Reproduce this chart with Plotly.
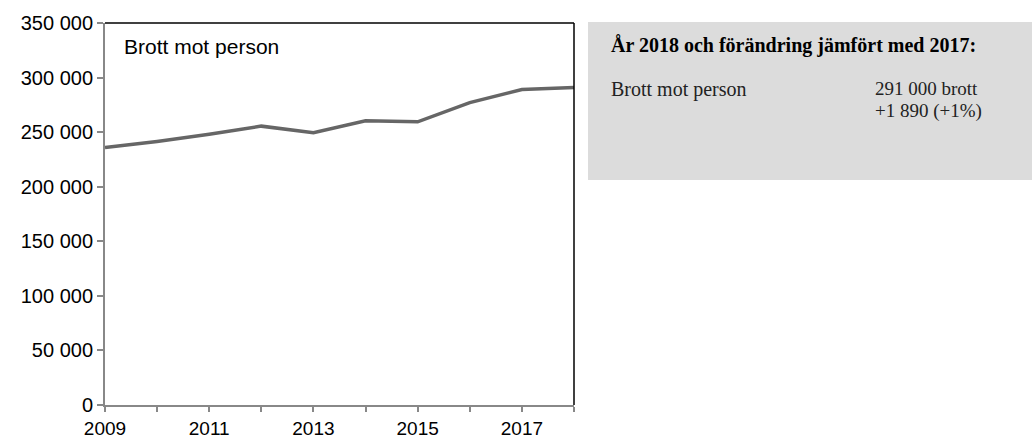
import plotly.graph_objects as go

years = [2009, 2010, 2011, 2012, 2013, 2014, 2015, 2016, 2017, 2018]
brott_mot_person = [236000, 241500, 248000, 255500, 249500, 260500, 259500, 277000, 289110, 291000]
tick_years = years
tick_labels = ["2009", "", "2011", "", "2013", "", "2015", "", "2017", ""]
y_ticks = [0, 50000, 100000, 150000, 200000, 250000, 300000, 350000]
y_labels = ["0", "50 000", "100 000", "150 000", "200 000", "250 000", "300 000", "350 000"]

W, H = 1032, 441
L, R, T, B = 105, 574, 23, 405
ml, mr, mt, mb = L, W - R, T, H - B
pw, ph = R - L, B - T

def px(x):
    return (x - L) / pw

def py(y):
    return (B - y) / ph

fig = go.Figure()
fig.add_trace(go.Scatter(x=years, y=brott_mot_person, mode="lines",
                         line=dict(color="#666666", width=3.5), showlegend=False,
                         hoverinfo="skip"))

sans = "Liberation Sans, Arial"
serif = "Liberation Serif, serif"
fig.update_layout(
    width=W, height=H,
    margin=dict(l=ml, r=mr, t=mt, b=mb, pad=0, autoexpand=False),
    paper_bgcolor="white", plot_bgcolor="white",
    xaxis=dict(range=[2009, 2018], tickvals=tick_years, ticktext=tick_labels,
               showgrid=False, zeroline=False, showline=True, linecolor="#888888",
               linewidth=2, ticks="outside", ticklen=5, tickwidth=2, tickcolor="#888888",
               tickfont=dict(family=sans, size=19, color="#000000"),
               fixedrange=True, automargin=False),
    yaxis=dict(range=[0, 350000], tickvals=y_ticks, ticktext=y_labels,
               showgrid=False, zeroline=False, showline=True, linecolor="#888888",
               linewidth=2, ticks="outside", ticklen=6, tickwidth=2, tickcolor="#888888",
               tickfont=dict(family=sans, size=20, color="#000000"),
               fixedrange=True, automargin=False),
    shapes=[
        dict(type="line", xref="paper", yref="paper", x0=0, x1=1, y0=1, y1=1,
             line=dict(color="#000000", width=1.5)),
        dict(type="line", xref="paper", yref="paper", x0=1, x1=1, y0=0, y1=1,
             line=dict(color="#000000", width=1.5)),
        dict(type="rect", xref="paper", yref="paper", x0=px(588), x1=px(1032),
             y0=py(180), y1=py(22), fillcolor="#dcdcdc", line=dict(width=0), layer="below"),
    ],
    annotations=[
        dict(text="Brott mot person", xref="paper", yref="paper", x=px(122), y=py(47),
             xanchor="left", yanchor="middle", showarrow=False,
             font=dict(family=sans, size=21, color="#000000")),
        dict(text="<b>År 2018 och förändring jämfört med 2017:</b>", xref="paper", yref="paper",
             x=px(609), y=py(46), xanchor="left", yanchor="middle", showarrow=False,
             font=dict(family=serif, size=20, color="#000000")),
        dict(text="Brott mot person", xref="paper", yref="paper",
             x=px(609), y=py(89), xanchor="left", yanchor="middle", showarrow=False,
             font=dict(family=serif, size=20, color="#222222")),
        dict(text="291 000 brott", xref="paper", yref="paper",
             x=px(873), y=py(88), xanchor="left", yanchor="middle", showarrow=False,
             font=dict(family=serif, size=19, color="#222222")),
        dict(text="+1 890 (+1%)", xref="paper", yref="paper",
             x=px(873), y=py(111), xanchor="left", yanchor="middle", showarrow=False,
             font=dict(family=serif, size=19, color="#222222")),
    ],
)

fig.write_html("out.html", config={"displayModeBar": False},
               post_script="document.body.style.margin='0';document.body.style.overflow='hidden';")
